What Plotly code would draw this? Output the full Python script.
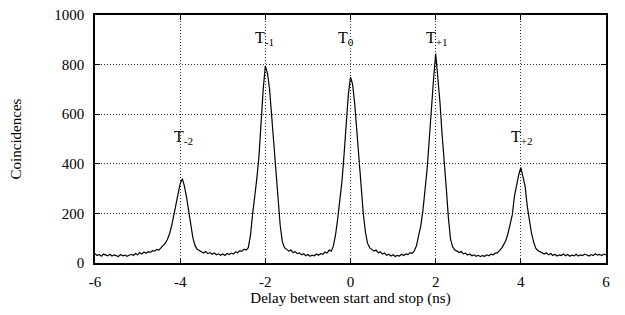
import numpy as np
import plotly.graph_objects as go

# Coincidence counts, bins every 0.05 ns from -6 to 6 ns
counts = [
    # -6.00 .. -4.65
    38, 30, 34, 27, 36, 31, 29, 35, 28, 33, 30, 26, 34, 29, 32, 27, 31, 35, 30, 38,
    33, 42, 36, 44, 39, 46, 43, 50,
    # -4.60 .. -3.50 (T-2)
    48, 55, 52, 60, 68, 80, 95, 118, 150, 195, 245, 290, 320, 340, 310, 265, 210,
    150, 100, 70, 55, 50, 44,
    # -3.45 .. -2.65
    40, 46, 38, 42, 35, 40, 33, 37, 31, 36, 30, 38, 34, 40, 36, 45, 42,
    # -2.60 .. -1.50 (T-1)
    50, 47, 56, 52, 62, 110, 195, 260, 340, 430, 570, 700, 795, 765, 700, 590, 460,
    350, 230, 150, 85, 62, 55,
    # -1.45 .. -0.45
    48, 52, 42, 46, 38, 41, 33, 37, 29, 34, 27, 32, 29, 36, 31, 38, 35, 44, 40, 52, 48,
    # -0.40 .. 0.50 (T0)
    70, 115, 180, 250, 330, 440, 560, 680, 750, 720, 640, 520, 420, 300, 200, 125,
    80, 62, 55,
    # 0.55 .. 1.45
    48, 52, 41, 45, 36, 40, 31, 35, 28, 33, 26, 31, 28, 35, 30, 37, 34, 42, 39,
    # 1.50 .. 2.45 (T+1)
    50, 70, 110, 150, 210, 290, 380, 500, 640, 740, 845, 760, 650, 520, 420, 300,
    180, 95, 65, 52,
    # 2.50 .. 3.40
    48, 42, 46, 37, 40, 32, 36, 29, 33, 27, 31, 26, 30, 27, 33, 29, 36, 33, 40,
    # 3.45 .. 4.45 (T+2)
    42, 50, 60, 75, 92, 120, 155, 195, 270, 320, 355, 385, 345, 310, 230, 170, 120,
    85, 60, 50, 45,
    # 4.50 .. 6.00
    40, 36, 41, 33, 38, 30, 35, 28, 33, 30, 36, 29, 34, 27, 32, 29, 35, 28, 33, 30,
    36, 31, 28, 34, 30, 37, 32, 35, 30, 36, 33,
]
delay_start, delay_end = -6.0, 6.0
delay = np.round(np.linspace(delay_start, delay_end, len(counts)), 2)

peak_labels = ["T<sub>-2</sub>", "T<sub>-1</sub>", "T<sub>0</sub>", "T<sub>+1</sub>", "T<sub>+2</sub>"]
peak_label_x = [-3.93, -2.03, -0.1, 2.03, 4.03]
peak_label_y = [505, 905, 905, 905, 505]

x_ticks = [-6, -4, -2, 0, 2, 4, 6]
x_tick_text = ["-6", "-4", "-2", "0", "2", "4", "6"]
y_ticks = [0, 200, 400, 600, 800, 1000]
y_tick_text = ["0", "200", "400", "600", "800", "1000"]

FONT = "Liberation Serif, Times New Roman, DejaVu Serif, serif"

fig = go.Figure()
fig.add_trace(go.Scatter(x=delay, y=counts, mode="lines",
                         line=dict(color="black", width=1.2), showlegend=False))

for lab, lx, ly in zip(peak_labels, peak_label_x, peak_label_y):
    fig.add_annotation(x=lx, y=ly, text=lab, showarrow=False,
                       font=dict(family=FONT, size=16, color="black"),
                       xanchor="center", yanchor="middle")

axis_common = dict(showline=True, linecolor="black", linewidth=1.5, mirror="ticks",
                   ticks="inside", ticklen=5, tickcolor="black", automargin=False,
                   ticklabeloverflow="allow",
                   showgrid=True, gridcolor="#333", griddash="1px,2px", gridwidth=1,
                   zeroline=False, tickfont=dict(family=FONT, size=15, color="black"))

fig.update_xaxes(range=[delay_start, delay_end], tickvals=x_ticks, ticktext=x_tick_text,
                 ticklabelstandoff=4,
                 title=dict(text="Delay between start and stop (ns)",
                            font=dict(family=FONT, size=15, color="black"), standoff=6),
                 **axis_common)
fig.update_yaxes(range=[0, 1000], tickvals=y_ticks, ticktext=y_tick_text,
                 ticklabelstandoff=6,
                 title=dict(text="Coincidences",
                            font=dict(family=FONT, size=15, color="black"), standoff=36),
                 **axis_common)

fig.update_layout(width=617, height=299,
                  margin=dict(l=87, r=19, t=7, b=44),
                  paper_bgcolor="white", plot_bgcolor="white",
                  font=dict(family=FONT, color="black"))

fig.write_html("out.html")
